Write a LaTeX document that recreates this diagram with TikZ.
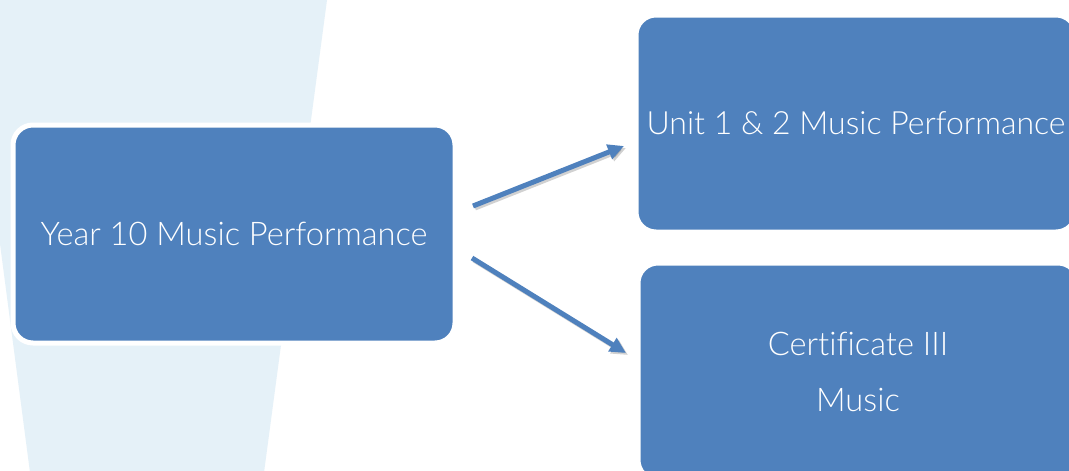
\documentclass[tikz,border=0pt]{standalone}
\usepackage{fontspec}
\setmainfont{Lato}[UprightFont={* Light}, Ligatures=NoCommon]
\usetikzlibrary{arrows.meta}
\definecolor{boxblue}{HTML}{4F81BD}
\definecolor{paleblue}{HTML}{E5F1F8}
\tikzset{
  stagebox/.style={draw=white, line width=5pt, fill=boxblue, rounded corners=20pt,
    text=white, font=\fontsize{32.6}{56}\selectfont, align=center,
    inner sep=0pt, outer sep=0pt},
  flowarrow/.style={draw=boxblue, line width=5pt, -{Triangle[length=16pt,width=15pt]}},
  flowshadow/.style={draw=black, opacity=0.18, line width=5pt, -{Triangle[length=16pt,width=15pt]}}
}
\begin{document}
\begin{tikzpicture}[x=1pt,y=-1pt]
\useasboundingbox (0,0) rectangle (1069,471);
\clip (0,0) rectangle (1069,471);
\fill[white] (0,0) rectangle (1069,471);
% pale background band
\fill[paleblue] (-32,0) -- (327,0) -- (263,480) -- (31,480) -- cycle;
% boxes
\node[stagebox, minimum width=442pt, minimum height=218pt] (L) at (234,234) {Year 10 Music Performance};
\node[stagebox, minimum width=440pt, minimum height=217pt, font=\fontsize{32}{56}\selectfont] (T) at (856,123.5) {Unit 1 \& 2 Music Performance};
\node[stagebox, minimum width=440pt, minimum height=217pt] (B) at (858,371.5) {Certificate III\\Music};
% arrows (free ends as named coordinates between the boxes)
\coordinate (a1s) at ([xshift=18pt,yshift=28pt]L.east);
\coordinate (a1e) at ([xshift=-12pt,yshift=-22.5pt]T.west);
\coordinate (a2s) at ([xshift=17pt,yshift=-24pt]L.east);
\coordinate (a2e) at ([xshift=-12pt,yshift=18.5pt]B.west);
\draw[flowshadow] ([shift={(2,2)}]a1s) -- ([shift={(2,2)}]a1e);
\draw[flowshadow] ([shift={(2,2)}]a2s) -- ([shift={(2,2)}]a2e);
\draw[flowarrow] (a1s) -- (a1e);
\draw[flowarrow] (a2s) -- (a2e);
\end{tikzpicture}
\end{document}
